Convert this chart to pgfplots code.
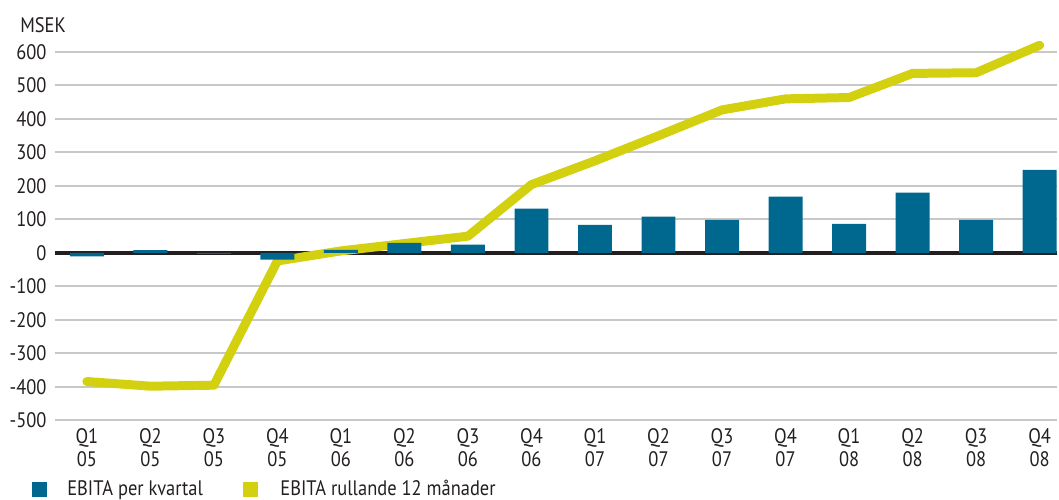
\documentclass[border=0pt]{standalone}
\usepackage{pgfplots}
\pgfplotsset{compat=1.18}
\usepackage{fontspec}
\setmainfont{PT Sans}[FakeStretch=0.88]
\definecolor{ebitablue}{RGB}{0,104,143}
\definecolor{ebitayellow}{RGB}{211,208,15}
\definecolor{gridgray}{RGB}{200,200,200}
\definecolor{zeroline}{RGB}{35,31,32}
\definecolor{txt}{RGB}{35,31,32}
\begin{document}
\begin{tikzpicture}
\begin{axis}[
  scale only axis,
  width=502pt, height=189.5pt,
  xmin=-0.503, xmax=15.28,
  ymin=-500, ymax=630,
  axis line style={draw=none},
  ytick={-500,-400,...,600},
  xtick={0,...,15},
  xticklabels={{Q1\\05},{Q2\\05},{Q3\\05},{Q4\\05},{Q1\\06},{Q2\\06},{Q3\\06},{Q4\\06},{Q1\\07},{Q2\\07},{Q3\\07},{Q4\\07},{Q1\\08},{Q2\\08},{Q3\\08},{Q4\\08}},
  xticklabel style={align=center, inner sep=0pt, yshift=-4pt, font=\fontsize{10.5}{11.5}\selectfont, text=txt},
  yticklabel style={inner sep=0pt, xshift=-4pt, font=\fontsize{10.5}{12}\selectfont, text=txt},
  /pgf/number format/assume math mode=true,
  major tick length=0pt,
  ymajorgrids,
  grid style={gridgray, line width=1pt},
  clip=false,
  legend columns=2,
  reverse legend,
  legend cell align=left,
  legend style={at={(axis description cs:-0.0229,-0.182)}, anchor=west, draw=none, fill=none, inner sep=0pt,
    font=\fontsize{10.5}{12}\selectfont, text=txt,
    nodes={inner sep=0pt},
    /tikz/every even column/.append style={column sep=20pt}},
]
\draw[zeroline, line width=1.6pt] (axis cs:-0.503,0) -- (axis cs:15.28,0);
\addplot[sharp plot, color=ebitayellow, line width=4.5pt, line cap=round, line join=round,
  legend image code/.code={\path[fill=ebitayellow, draw=none] (0pt,-3.75pt) rectangle (7.5pt,3.75pt); \path (16.5pt,0pt);}]
coordinates {(0,-384) (1,-398) (2,-395) (3,-24) (4,6) (5,28) (6,50) (7,204) (8,275) (9,350) (10,427) (11,460) (12,464) (13,536) (14,538) (15,620)};
\addlegendentry{EBITA rullande 12 månader}
\addplot[ybar, bar width=17pt, fill=ebitablue, draw=none,
  legend image code/.code={\path[fill=ebitablue, draw=none] (0pt,-3.75pt) rectangle (7.5pt,3.75pt); \path (17.5pt,0pt);}]
coordinates {(0,-10) (1,8) (2,-3) (3,-20) (4,9) (5,30) (6,25) (7,132) (8,84) (9,108) (10,99) (11,168) (12,87) (13,180) (14,99) (15,248)};
\addlegendentry{EBITA per kvartal}
\node[anchor=west, inner sep=0pt, text=txt, font=\fontsize{10.5}{12}\selectfont] at (axis description cs:-0.0349,1.045) {MSEK};
\end{axis}
\path[use as bounding box] ([xshift=-27.5pt,yshift=-39.5pt]current axis.south west) rectangle ([yshift=21pt]current axis.north east);
\end{tikzpicture}
\end{document}
